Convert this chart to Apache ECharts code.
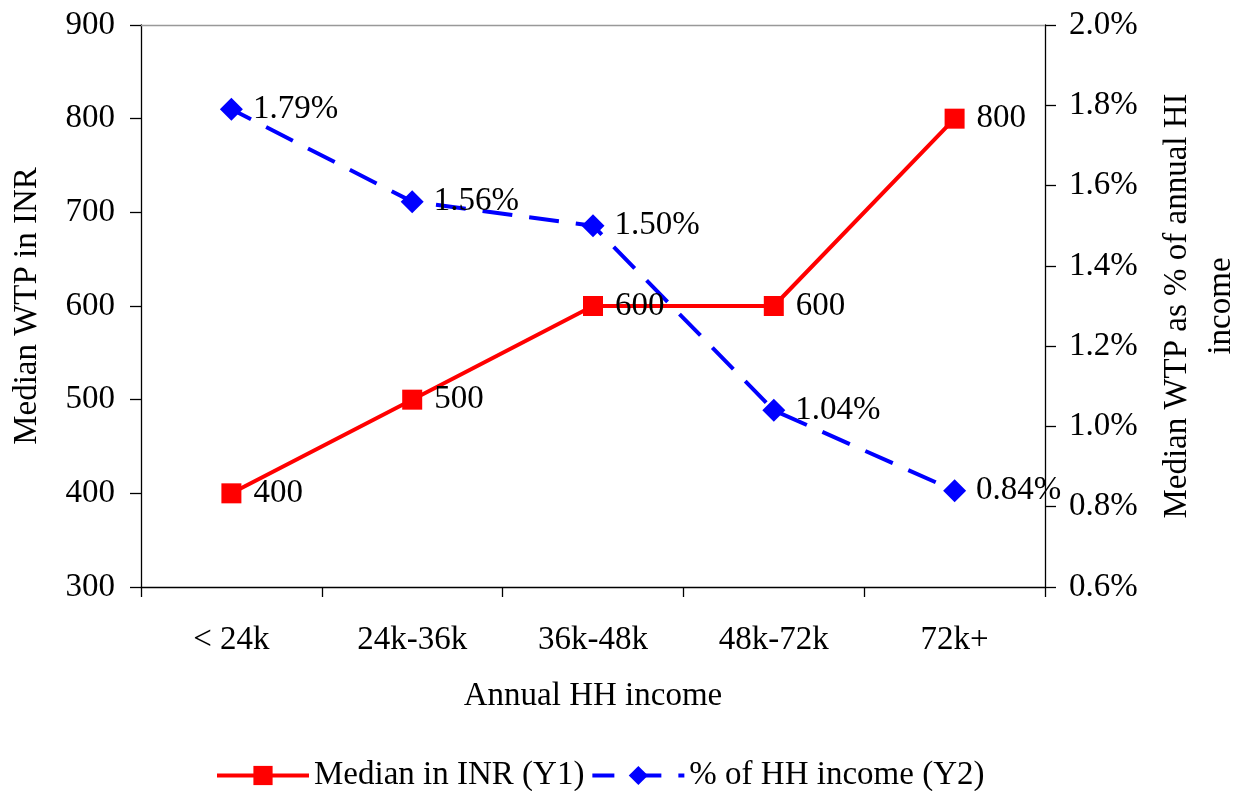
<!DOCTYPE html>
<html><head><meta charset="utf-8">
<script src="https://cdn.jsdelivr.net/npm/echarts@6/dist/echarts.min.js"></script>
<style>html,body{margin:0;padding:0;background:#fff}#c{width:1239px;height:791px}</style>
</head><body><div id="c"></div>
<script>
const categories = ['< 24k', '24k-36k', '36k-48k', '48k-72k', '72k+'];
const medianINR = [400, 500, 600, 600, 800];
const pctIncome = [1.79, 1.56, 1.50, 1.04, 0.84];
const y1Ticks = {min: 300, max: 900, interval: 100};
const y2Ticks = {min: 0.6, max: 2.0, interval: 0.2};

const F = 'Liberation Serif, Times New Roman, serif';
const FS = 33;
const black = '#000';
const chart = echarts.init(document.getElementById('c'), null, {renderer: 'canvas'});
const tk = () => ({color: black, width: 1.3});
chart.setOption({
  animation: false,
  backgroundColor: '#fff',
  textStyle: {fontFamily: F},
  grid: {left: 141, right: 194, top: 25, bottom: 204, containLabel: false, outerBoundsMode: 'none'},
  legend: {
    top: 754, left: 210, itemWidth: 92, itemHeight: 24, itemGap: 6,
    textStyle: {fontFamily: F, fontSize: FS, color: black},
    data: [
      {name: 'Median in INR (Y1)', lineStyle: {width: 4}},
      {name: '% of HH income (Y2)', lineStyle: {width: 4}}
    ]
  },
  xAxis: [
    {type: 'category', data: categories, position: 'bottom', boundaryGap: true,
     axisLine: {lineStyle: {color: black, width: 1.3}},
     axisTick: {show: true, length: 10, lineStyle: tk()},
     axisLabel: {fontFamily: F, fontSize: FS, color: black, margin: 37},
     name: 'Annual HH income', nameLocation: 'middle', nameGap: 93,
     nameTextStyle: {fontFamily: F, fontSize: FS, color: black}},
    {type: 'category', data: categories, position: 'top', boundaryGap: true,
     axisLine: {show: true, lineStyle: {color: '#999', width: 1.3}},
     axisLabel: {show: false}, axisTick: {show: false}}
  ],
  yAxis: [
    {type: 'value', position: 'left', min: y1Ticks.min, max: y1Ticks.max, interval: y1Ticks.interval,
     axisLine: {show: true, lineStyle: {color: black, width: 1.3}},
     axisTick: {show: true, length: 11, lineStyle: tk()},
     splitLine: {show: false},
     axisLabel: {fontFamily: F, fontSize: FS, color: black, margin: 26},
     name: 'Median WTP in INR', nameLocation: 'middle', nameGap: 97, nameRotate: 90,
     nameTextStyle: {fontFamily: F, fontSize: FS, color: black}},
    {type: 'value', position: 'right', min: y2Ticks.min, max: y2Ticks.max, interval: y2Ticks.interval,
     axisLine: {show: true, lineStyle: {color: black, width: 1.3}},
     axisTick: {show: true, length: 11, lineStyle: tk()},
     splitLine: {show: false},
     axisLabel: {fontFamily: F, fontSize: FS, color: black, margin: 24,
       formatter: v => v.toFixed(1) + '%'},
     name: 'Median WTP as % of annual HI\nincome', nameLocation: 'middle', nameGap: 110, nameRotate: 90,
     nameTextStyle: {fontFamily: F, fontSize: FS, color: black, lineHeight: 44}}
  ],
  series: [
    {name: 'Median in INR (Y1)', type: 'line', xAxisIndex: 0, yAxisIndex: 0, data: medianINR,
     symbol: 'rect', symbolSize: 20, itemStyle: {color: '#ff0000'},
     lineStyle: {color: '#ff0000', width: 4},
     label: {show: true, position: 'right', distance: 12, fontFamily: F, fontSize: FS, color: black}},
    {name: '% of HH income (Y2)', type: 'line', xAxisIndex: 0, yAxisIndex: 1, data: pctIncome,
     symbol: 'diamond', symbolSize: 23, itemStyle: {color: '#0000ff'},
     lineStyle: {color: '#0000ff', width: 4, type: [30, 17], dashOffset: 8},
     label: {show: true, position: 'right', distance: 10, fontFamily: F, fontSize: FS, color: black,
       formatter: p => p.value.toFixed(2) + '%'}}
  ]
});
</script></body></html>
